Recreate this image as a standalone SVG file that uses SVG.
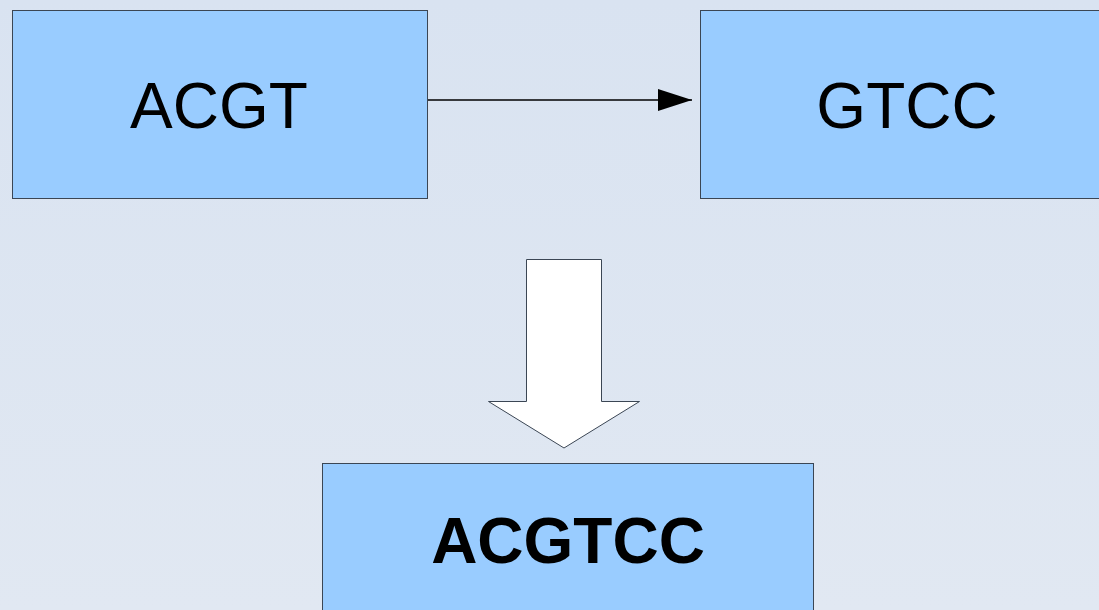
<svg xmlns="http://www.w3.org/2000/svg" width="1099" height="610" viewBox="0 0 1099 610">
<defs>
<linearGradient id="bg" x1="0" y1="0" x2="0" y2="1">
<stop offset="0" stop-color="#d9e3f1"/>
<stop offset="1" stop-color="#e1e8f2"/>
</linearGradient>
<marker id="ah" markerWidth="34" markerHeight="22" refX="34" refY="11" orient="auto" markerUnits="userSpaceOnUse">
<path d="M0,0 L34,11 L0,22 Z" fill="#000"/>
</marker>
<style>
.box{fill:#99ccff;stroke:#3b4654;stroke-width:1}
.lbl{font-family:"Liberation Sans",Arial,sans-serif;font-size:64px;fill:#000;text-anchor:middle}
.bold{font-weight:bold}
</style>
</defs>
<rect width="1099" height="610" fill="url(#bg)"/>
<g id="connectors">
<line x1="428" y1="100" x2="692" y2="100" stroke="#000" stroke-width="1.3" marker-end="url(#ah)"/>
<path id="block-arrow" d="M526.5,259.5 L601.5,259.5 L601.5,401.5 L639.5,401.5 L564,448 L488.5,401.5 L526.5,401.5 Z" fill="#fff" stroke="#3b4654" stroke-width="1"/>
</g>
<g id="node-acgt">
<rect class="box" x="12.5" y="10.5" width="415" height="188"/>
<text class="lbl" x="219" y="128">ACGT</text>
</g>
<g id="node-gtcc">
<rect class="box" x="700.5" y="10.5" width="415" height="188"/>
<text class="lbl" x="907" y="128">GTCC</text>
</g>
<g id="node-acgtcc">
<rect class="box" x="322.5" y="463.5" width="491" height="160"/>
<text class="lbl bold" x="568" y="563">ACGTCC</text>
</g>
</svg>
